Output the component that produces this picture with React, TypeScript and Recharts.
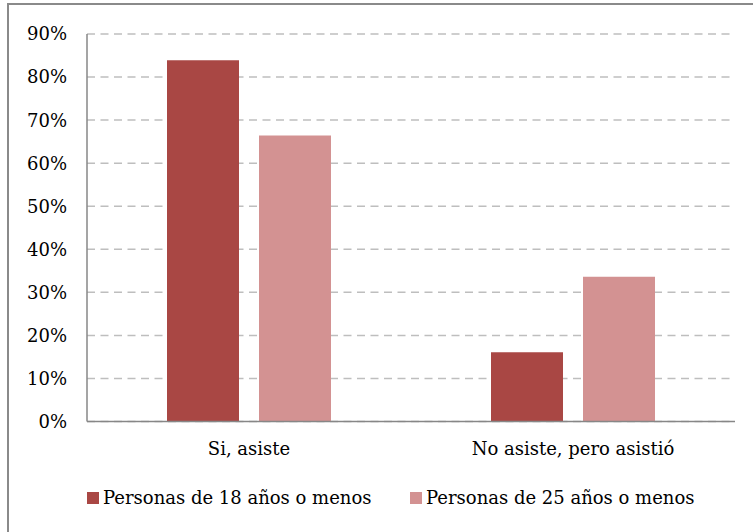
import React from 'react';
import { BarChart, Bar, XAxis, YAxis, CartesianGrid, Legend } from 'recharts';

const categories = ['Si, asiste', 'No asiste, pero asistió'];
const series18 = [83.9, 16.1];
const series25 = [66.4, 33.6];
const seriesNames = ['Personas de 18 años o menos', 'Personas de 25 años o menos'];
const seriesColors = ['#A94744', '#D39292'];
const yTicks = [0, 10, 20, 30, 40, 50, 60, 70, 80, 90];

const data = categories.map((c, i) => ({ name: c, a: series18[i], b: series25[i] }));

const FONT = '"DejaVu Serif", serif';
const FS = 18;

const LegendContent = () => {
  const lefts = [87, 410];
  return (
    <div style={{ position: 'relative', width: 753, height: 30, fontFamily: FONT, fontSize: FS, color: '#000' }}>
      {seriesNames.map((n, i) => (
        <React.Fragment key={n}>
          <div style={{ position: 'absolute', left: lefts[i], top: 9, width: 12, height: 12, background: seriesColors[i] }} />
          <span style={{ position: 'absolute', left: lefts[i] + 16, top: 4.3, lineHeight: '21px', whiteSpace: 'nowrap' }}>{n}</span>
        </React.Fragment>
      ))}
    </div>
  );
};

export default function App() {
  return (
    <div style={{ position: 'fixed', left: 0, top: 0, width: 753, height: 532, overflow: 'hidden', background: '#fff' }}>
      <div style={{ position: 'absolute', left: 6.7, top: 3.3, width: 900, height: 700, borderLeft: '2px solid #8a8a8a', borderTop: '2px solid #8a8a8a', boxSizing: 'border-box' }} />
      <div style={{ position: 'absolute', left: 0, top: 0 }}>
        <BarChart
          width={753}
          height={532}
          data={data}
          margin={{ top: 34, right: 18, bottom: 40.5, left: 0 }}
          barSize={72}
          barGap={20}
        >
          <CartesianGrid horizontal vertical={false} stroke="#BEBEBE" strokeWidth={1.5} strokeDasharray="8 5.5" />
          <XAxis
            dataKey="name"
            height={40}
            tickLine={false}
            tickSize={0}
            tickMargin={20.7}
            axisLine={{ stroke: '#878787', strokeWidth: 1.5 }}
            tick={{ fill: '#000', fontFamily: FONT, fontSize: FS }}
            interval={0}
          />
          <YAxis
            width={87}
            domain={[0, 90]}
            ticks={yTicks}
            tickFormatter={(v: number) => `${v}%`}
            tickLine={false}
            tickSize={0}
            tickMargin={20}
            axisLine={{ stroke: '#878787', strokeWidth: 1.5 }}
            tick={{ fill: '#000', fontFamily: FONT, fontSize: FS }}
            interval={0}
          />
          <Legend content={<LegendContent />} wrapperStyle={{ top: 483, left: 0, width: 753, height: 30 }} />
          <Bar dataKey="a" name={seriesNames[0]} fill={seriesColors[0]} isAnimationActive={false} />
          <Bar dataKey="b" name={seriesNames[1]} fill={seriesColors[1]} isAnimationActive={false} />
        </BarChart>
      </div>
    </div>
  );
}
